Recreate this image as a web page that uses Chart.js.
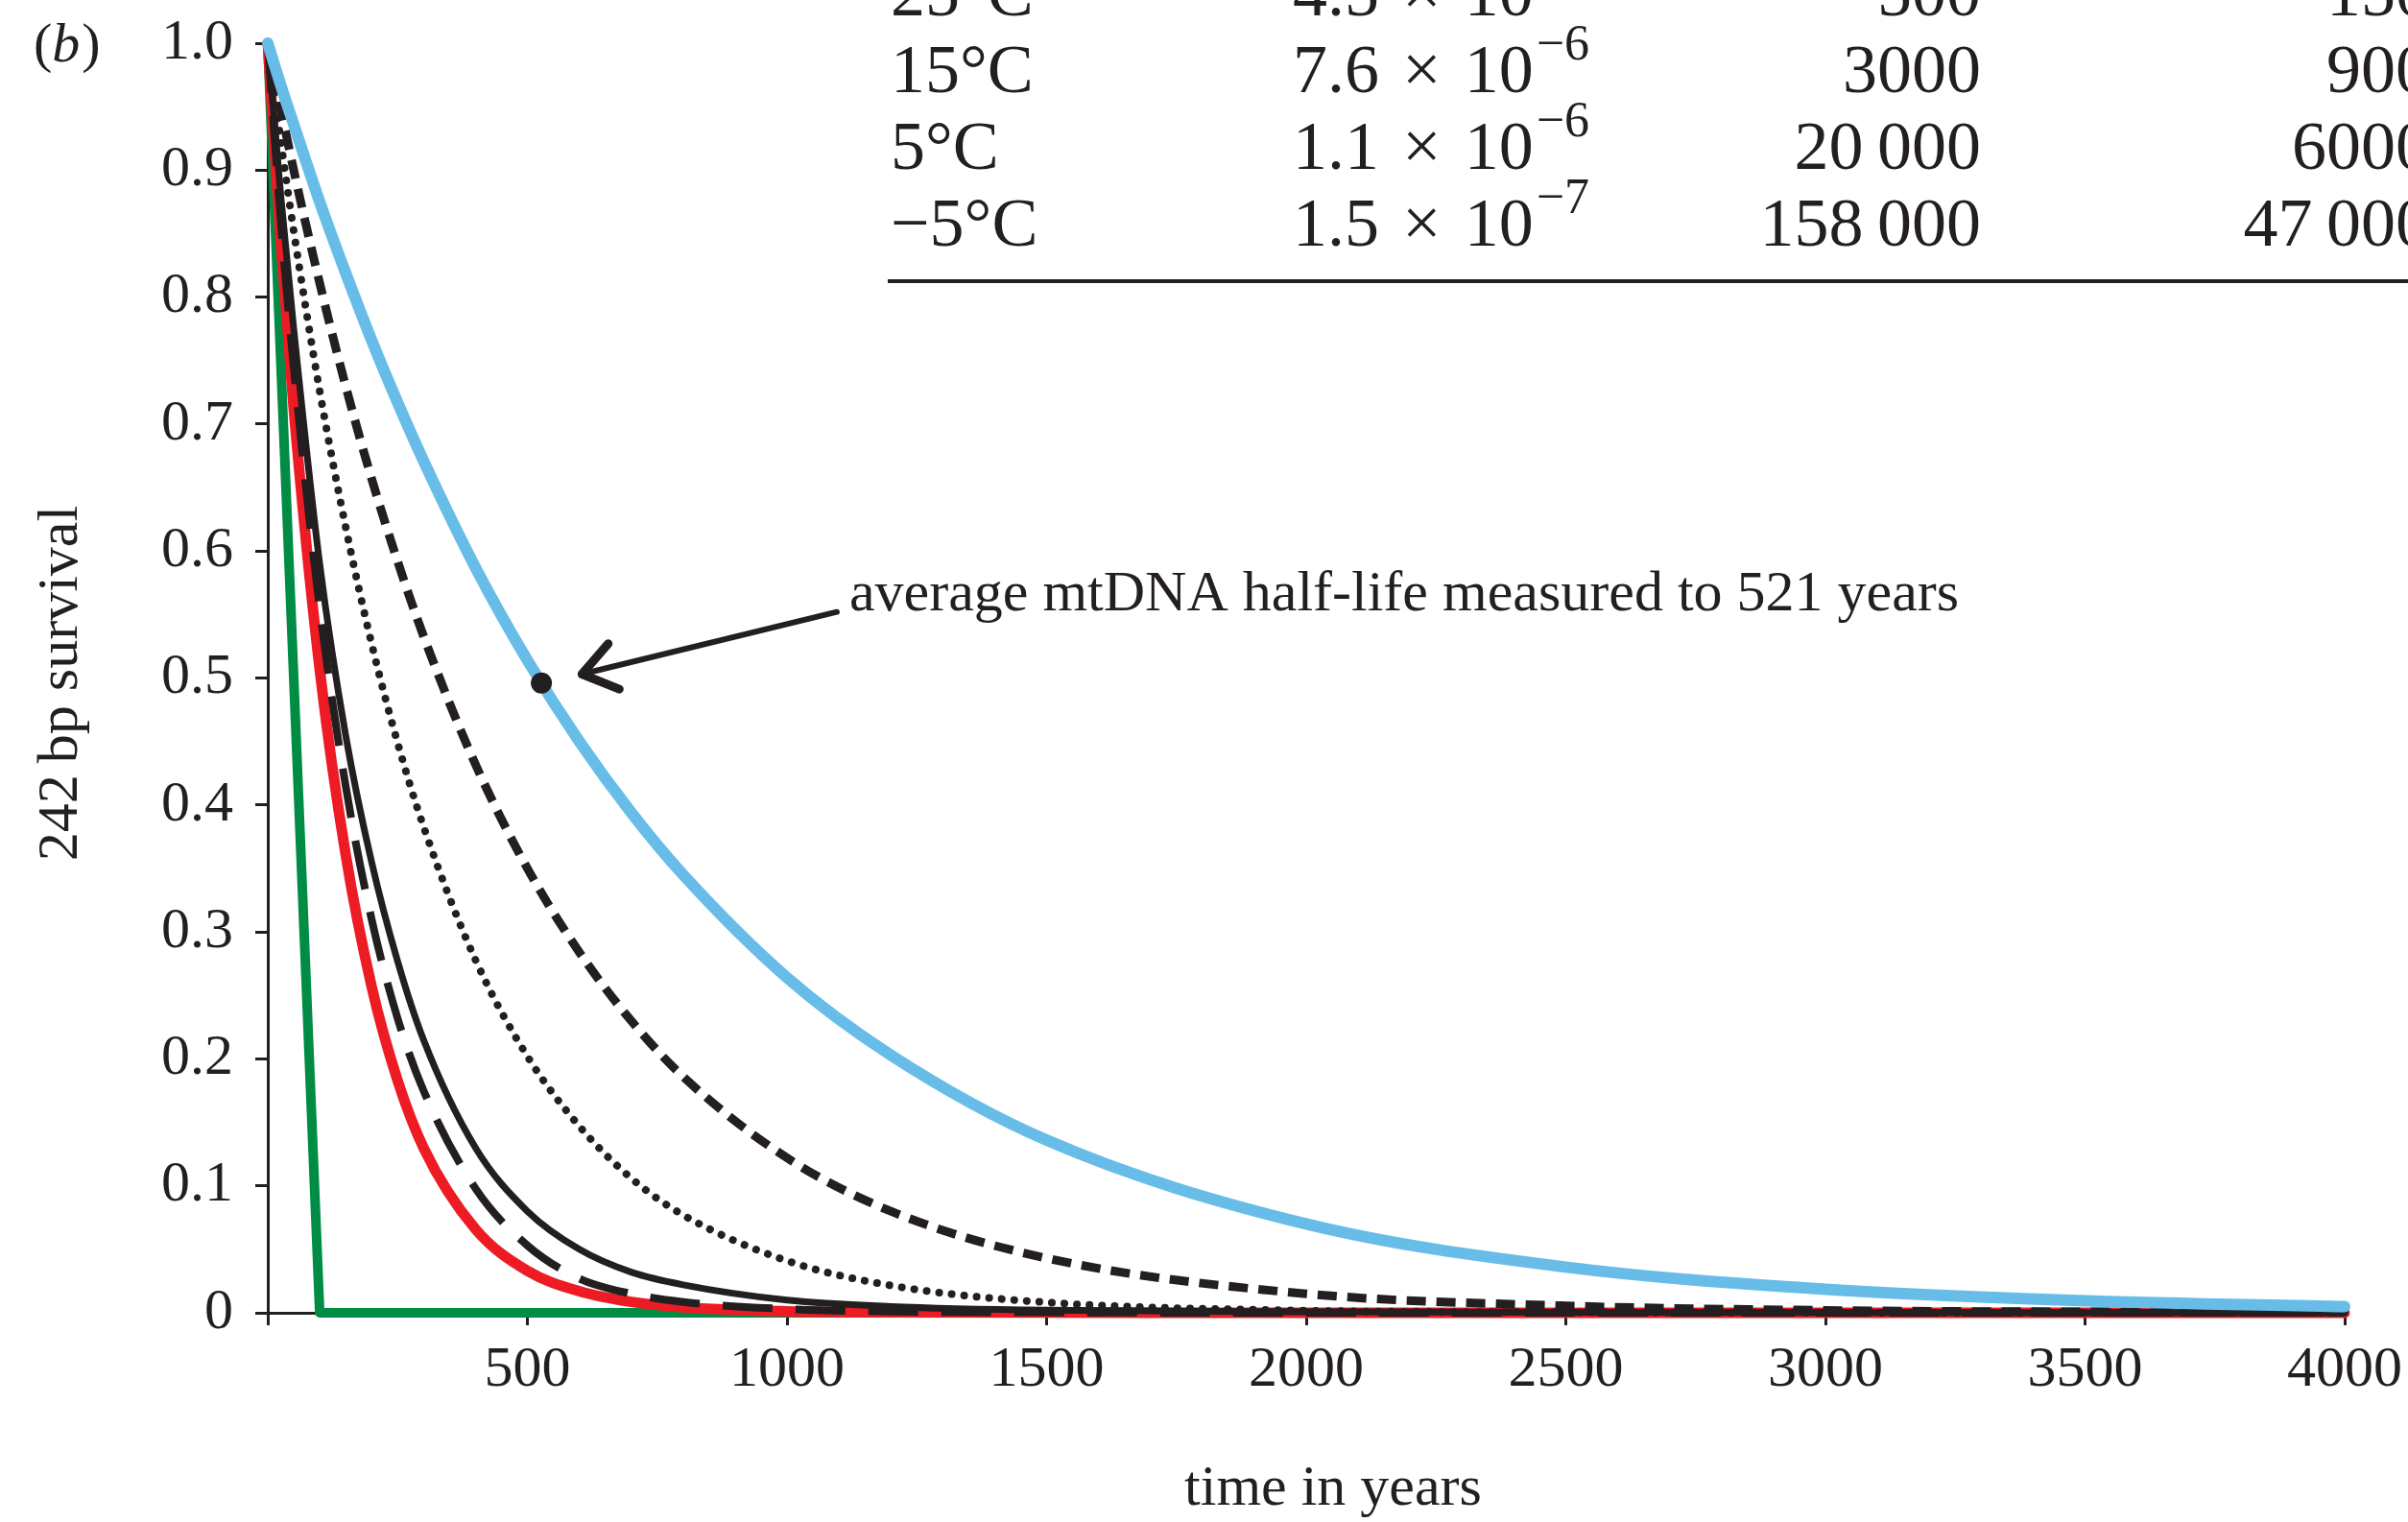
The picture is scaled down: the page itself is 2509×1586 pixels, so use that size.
<!DOCTYPE html>
<html>
<head>
<meta charset="UTF-8">
<title>242 bp survival</title>
<script src="https://cdn.jsdelivr.net/npm/chart.js@4"></script>
<style>
  body { margin: 0; background: #fff; }
</style>
</head>
<body>
<canvas id="myChart" width="2509" height="1586"></canvas>
<script>
// values (time in years, survival fraction)
const years = [0, 25, 50, 100, 150, 200, 250, 300, 400, 500, 600, 700, 800, 1000, 1200, 1500, 2000, 2500, 3000, 3500, 4000];
const blueSurvival = [1, 0.967, 0.936, 0.875, 0.819, 0.766, 0.717, 0.671, 0.587, 0.514, 0.450, 0.394, 0.345, 0.264, 0.203, 0.136, 0.070, 0.036, 0.0185, 0.0095, 0.0049];
const shortDashSurvival = [1, 0.949, 0.900, 0.811, 0.730, 0.657, 0.592, 0.533, 0.432, 0.350, 0.284, 0.230, 0.186, 0.122, 0.080, 0.043, 0.015, 0.0055, 0.0019, 0.0007, 0.0003];
const dottedSurvival = [1, 0.923, 0.852, 0.726, 0.619, 0.527, 0.449, 0.383, 0.278, 0.202, 0.147, 0.106, 0.077, 0.041, 0.0215, 0.0082, 0.0017, 0.0004, 0.0001, 0, 0];
const blackSurvival = [1, 0.88, 0.775, 0.59, 0.455, 0.355, 0.277, 0.215, 0.13, 0.08, 0.05, 0.032, 0.022, 0.01, 0.005, 0.002, 0.0008, 0.0003, 0.0001, 0, 0];
const longDashSurvival = [1, 0.86, 0.745, 0.555, 0.415, 0.31, 0.232, 0.175, 0.098, 0.053, 0.027, 0.015, 0.0085, 0.003, 0.001, 0.0003, 0, 0, 0, 0, 0];
const redSurvival = [1, 0.844, 0.712, 0.507, 0.361, 0.257, 0.183, 0.13, 0.066, 0.033, 0.017, 0.0086, 0.0043, 0.0011, 0.0003, 0.0001, 0, 0, 0, 0, 0];
const greenYears = [0, 100, 4000];
const greenSurvival = [1, 0, 0];

// measured half-life marker (as placed in the figure)
const halfLifeYear = 527;
const halfLifeValue = 0.496;

// table rows (cut off at the top of the figure)
const tableTemps = ['25°C', '15°C', '5°C', '\u22125°C'];
const tableRates = ['4.5', '7.6', '1.1', '1.5'];
const tableRateExp = ['\u22125', '\u22126', '\u22126', '\u22127'];
const tableYearsA = ['500', '3000', '20\u2009000', '158\u2009000'];
const tableYearsB = ['150', '900', '6000', '47\u2009000'];

const ink = '#231f20';
const serif = '"Liberation Serif", "Times New Roman", serif';

function pts(xs, ys) {
    return xs.map((x, i) => ({ x: x, y: ys[i] }));
}

function curve(data, color, width, dash, cap) {
    return {
        data: data,
        borderColor: color,
        borderWidth: width,
        borderDash: dash,
        borderCapStyle: cap,
        borderJoinStyle: 'round',
        pointRadius: 0,
        fill: false,
        cubicInterpolationMode: 'monotone',
        clip: false
    };
}

// text, arrow and table drawn on top of the chart
const overlay = {
    id: 'overlay',
    afterDraw(chart) {
        const ctx = chart.ctx;
        const xs = chart.scales.x;
        const ys = chart.scales.y;
        ctx.save();
        ctx.fillStyle = ink;
        ctx.strokeStyle = ink;

        // panel label (b)
        ctx.textBaseline = 'alphabetic';
        ctx.textAlign = 'left';
        let px = 35;
        ctx.font = '58px ' + serif;
        ctx.fillText('(', px, 64);
        px += ctx.measureText('(').width;
        ctx.font = 'italic 58px ' + serif;
        ctx.fillText('b', px, 64);
        px += ctx.measureText('b').width + 2;
        ctx.font = '58px ' + serif;
        ctx.fillText(')', px, 64);

        // axis titles
        ctx.save();
        ctx.translate(64, 712);
        ctx.rotate(-Math.PI / 2);
        ctx.textAlign = 'center';
        ctx.textBaseline = 'middle';
        ctx.font = '60px ' + serif;
        ctx.fillText('242\u2009bp survival', 0, 0);
        ctx.restore();

        ctx.textAlign = 'center';
        ctx.textBaseline = 'middle';
        ctx.font = '60px ' + serif;
        ctx.fillText('time in years', 1389, 1552);

        // arrow to the half-life point
        const tipX = xs.getPixelForValue(605), tipY = ys.getPixelForValue(0.503);
        const tailX = xs.getPixelForValue(1096), tailY = ys.getPixelForValue(0.552);
        ctx.lineWidth = 6;
        ctx.lineCap = 'round';
        ctx.lineJoin = 'round';
        ctx.beginPath();
        ctx.moveTo(tailX, tailY);
        ctx.lineTo(tipX + 4, tipY - 1);
        ctx.stroke();
        const ang = Math.atan2(tailY - tipY, tailX - tipX);
        ctx.lineWidth = 9;
        ctx.beginPath();
        ctx.moveTo(tipX + 42 * Math.cos(ang - 0.62), tipY + 42 * Math.sin(ang - 0.62));
        ctx.lineTo(tipX, tipY);
        ctx.lineTo(tipX + 42 * Math.cos(ang + 0.62), tipY + 42 * Math.sin(ang + 0.62));
        ctx.stroke();

        ctx.textAlign = 'left';
        ctx.textBaseline = 'middle';
        ctx.font = '60px ' + serif;
        ctx.fillText('average mtDNA half-life measured to 521 years', tailX + 13, tailY - 17);

        // table
        const base = [16, 96, 176, 256];
        ctx.textBaseline = 'alphabetic';
        for (let i = 0; i < tableTemps.length; i++) {
            ctx.font = '72px ' + serif;
            ctx.textAlign = 'left';
            ctx.fillText(tableTemps[i], 928, base[i]);
            const mant = tableRates[i] + '\u2004\u00d7\u200410';
            ctx.fillText(mant, 1347, base[i]);
            const w = ctx.measureText(mant).width;
            ctx.textAlign = 'right';
            ctx.fillText(tableYearsA[i], 2064, base[i]);
            ctx.fillText(tableYearsB[i], 2532, base[i]);
            ctx.textAlign = 'left';
            ctx.font = '52px ' + serif;
            ctx.fillText(tableRateExp[i], 1347 + w + 3, base[i] - 34);
        }
        ctx.fillRect(925, 291, 2509 - 925, 4);

        ctx.restore();
    }
};

const datasets = [
    Object.assign(curve([{ x: halfLifeYear, y: halfLifeValue }], ink, 0, [], 'butt'), {
        pointRadius: 11, pointBackgroundColor: ink, pointBorderWidth: 0, showLine: false
    }),
    curve(pts(years, blueSurvival), '#67bde8', 12, [], 'round'),
    curve(pts(years, shortDashSurvival), ink, 9, [20, 11], 'butt'),
    curve(pts(years, dottedSurvival), ink, 8, [0.1, 13], 'round'),
    curve(pts(years, blackSurvival), ink, 7, [], 'round'),
    curve(pts(years, longDashSurvival), ink, 8, [52, 24], 'butt'),
    curve(pts(years, redSurvival), '#ed1c24', 11, [], 'round'),
    Object.assign(curve(pts(greenYears, greenSurvival), '#008c45', 10, [], 'round'), {
        cubicInterpolationMode: 'default', tension: 0
    })
];

const canvas = document.getElementById('myChart');
const myChart = new Chart(canvas, {
    type: 'line',
    data: { datasets: datasets },
    options: {
        responsive: false,
        animation: false,
        layout: { padding: { left: 0, right: 66, top: 45, bottom: 0 } },
        plugins: {
            legend: { display: false },
            tooltip: { enabled: false }
        },
        scales: {
            x: {
                type: 'linear',
                min: 0,
                max: 4000,
                afterFit: s => { s.height = 218; s.paddingLeft = 0; s.paddingRight = 0; },
                grid: { drawOnChartArea: false, tickLength: 13, tickWidth: 3, tickColor: ink },
                border: { color: ink, width: 3 },
                ticks: {
                    stepSize: 500,
                    autoSkip: false,
                    maxRotation: 0,
                    padding: 11,
                    color: ink,
                    font: { family: serif, size: 60 },
                    callback: v => (v === 0 ? '' : String(v))
                }
            },
            y: {
                type: 'linear',
                min: 0,
                max: 1,
                afterFit: s => { s.width = 279; s.paddingTop = 0; s.paddingBottom = 0; },
                grid: { drawOnChartArea: false, tickLength: 13, tickWidth: 3, tickColor: ink },
                border: { color: ink, width: 3 },
                ticks: {
                    stepSize: 0.1,
                    padding: 23,
                    color: ink,
                    font: { family: serif, size: 60 },
                    callback: v => (v === 0 ? '0' : v.toFixed(1))
                }
            }
        }
    },
    plugins: [overlay]
});
</script>
</body>
</html>
